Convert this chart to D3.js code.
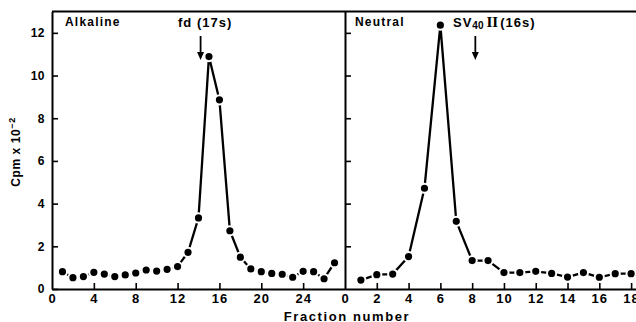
<!DOCTYPE html>
<html>
<head>
<meta charset="utf-8">
<script src="https://cdn.jsdelivr.net/npm/d3@7"></script>
<style>
  html, body { margin: 0; padding: 0; background: #fff; }
  svg text { font-family: "Liberation Sans", Arial, sans-serif; font-weight: bold; fill: #000; }
</style>
</head>
<body>
<svg id="chart" width="636" height="322"></svg>
<script>
// ---- Data ----
const alkalineFractions = [1,2,3,4,5,6,7,8,9,10,11,12,13,14,15,16,17,18,19,20,21,22,23,24,25,26,27];
const alkalineCpm = [0.81,0.53,0.58,0.78,0.70,0.58,0.66,0.75,0.89,0.84,0.92,1.05,1.72,3.33,10.89,8.86,2.73,1.49,0.94,0.81,0.73,0.69,0.55,0.83,0.81,0.48,1.23];
const neutralFractions = [1,2,3,4,5,6,7,8,9,10,11,12,13,14,15,16,17,18];
const neutralCpm = [0.42,0.67,0.70,1.52,4.72,12.36,3.17,1.33,1.33,0.77,0.77,0.83,0.73,0.56,0.77,0.55,0.72,0.72];
const yTicks = [0,2,4,6,8,10,12];
const alkalineXTicks = [0,4,8,12,16,20,24];
const neutralXTicks = [0,2,4,6,8,10,12,14,16,18];
const alkalineMarker = 14.2;   // fd (17s) arrow position (fraction)
const neutralMarker = 8.2;     // SV40 II (16s) arrow position (fraction)

// ---- Layout ----
const svg = d3.select("#chart");
const y = d3.scaleLinear().domain([0, 13]).range([289, 11.5]);
const xL = d3.scaleLinear().domain([0, 28]).range([52, 345]);
const xR = d3.scaleLinear().domain([0, 19]).range([345, 647]);

// Axes
function styleAxis(g) {
  g.selectAll(".domain").attr("stroke", "#000").attr("stroke-width", 2);
  g.selectAll(".tick line").attr("stroke", "#000").attr("stroke-width", 1.6);
}
// left y axis with labels
svg.append("g").attr("transform", `translate(${xL(0)},0)`)
  .call(d3.axisLeft(y).tickValues(yTicks).tickSizeInner(-6).tickSizeOuter(0).tickPadding(7).tickFormat(d3.format("d")))
  .call(styleAxis)
  .call(g => g.selectAll("text").style("font-size", "12px").style("letter-spacing", "0.5px"));
// middle y axis (right panel), ticks inward, no labels
svg.append("g").attr("transform", `translate(${xR(0)},0)`)
  .call(d3.axisLeft(y).tickValues(yTicks.slice(1)).tickSizeInner(-6).tickSizeOuter(0).tickFormat(""))
  .call(styleAxis);
// bottom axes
svg.append("g").attr("transform", `translate(0,${y(0)})`)
  .call(d3.axisBottom(xL).tickValues(alkalineXTicks).tickSizeInner(-6).tickSizeOuter(0).tickPadding(5).tickFormat(d3.format("d")))
  .call(styleAxis)
  .call(g => g.selectAll("text").style("font-size", "13px").style("letter-spacing", "1px"))
  .call(g => g.selectAll(".tick").filter(d => d === 0).select("line").remove());
svg.append("g").attr("transform", `translate(0,${y(0)})`)
  .call(d3.axisBottom(xR).tickValues(neutralXTicks).tickSizeInner(-6).tickSizeOuter(0).tickPadding(5).tickFormat(d3.format("d")))
  .call(styleAxis)
  .call(g => g.selectAll("text").style("font-size", "13px").style("letter-spacing", "1px"))
  .call(g => g.selectAll(".tick").filter(d => d === 0).select("line").remove());
// top frame
svg.append("line")
  .attr("x1", xL(0)).attr("x2", 636).attr("y1", y(13)).attr("y2", y(13))
  .attr("stroke", "#000").attr("stroke-width", 2);

// Series
function drawSeries(xs, ys, xScale) {
  const pts = xs.map((f, i) => [f, ys[i]]);
  svg.append("path").datum(pts)
    .attr("fill", "none").attr("stroke", "#000").attr("stroke-width", 2.3)
    .attr("stroke-linejoin", "miter")
    .attr("d", d3.line().x(d => xScale(d[0])).y(d => y(d[1])));
  svg.append("g").selectAll("circle").data(pts).join("circle")
    .attr("cx", d => xScale(d[0])).attr("cy", d => y(d[1]))
    .attr("r", 4.6).attr("fill", "#000").attr("stroke", "#fff").attr("stroke-width", 2);
}
drawSeries(alkalineFractions, alkalineCpm, xL);
drawSeries(neutralFractions, neutralCpm, xR);

// Arrows
function arrow(x) {
  const top = 36, bottom = 60;
  svg.append("line").attr("x1", x).attr("x2", x).attr("y1", top).attr("y2", bottom - 6)
    .attr("stroke", "#000").attr("stroke-width", 1.8);
  svg.append("path").attr("d", `M${x - 3.5},${bottom - 8}L${x + 3.5},${bottom - 8}L${x},${bottom}Z`).attr("fill", "#000");
}
arrow(xL(alkalineMarker));
arrow(xR(neutralMarker));

// Panel labels
svg.append("text").attr("x", 65).attr("y", 25.5).style("font-size", "12px").style("letter-spacing", "1.2px").text("Alkaline");
svg.append("text").attr("x", 355).attr("y", 25.5).style("font-size", "12px").style("letter-spacing", "1.2px").text("Neutral");
svg.append("text").attr("x", 178).attr("y", 27).style("font-size", "13px").style("letter-spacing", "1px").text("fd (17s)");
const sv = svg.append("text").attr("x", 453).attr("y", 27).style("font-size", "13px").style("letter-spacing", "1px");
sv.append("tspan").text("SV");
sv.append("tspan").attr("dy", 2).style("font-size", "10px").style("letter-spacing", "0px").text("40");
sv.append("tspan").attr("dy", -2).attr("dx", 3).style("font-family", "'Liberation Serif', serif").style("font-size", "15px").style("letter-spacing", "0px").text("II");
sv.append("tspan").attr("dx", 2).text("(16s)");

// Axis titles
svg.append("text").attr("x", 347).attr("y", 320.5).attr("text-anchor", "middle")
  .style("font-size", "13px").style("letter-spacing", "1.6px").text("Fraction number");
const yl = svg.append("text").attr("transform", "translate(20,152) rotate(-90)").attr("text-anchor", "middle")
  .style("font-size", "12px").style("letter-spacing", "0.6px");
yl.append("tspan").text("Cpm x 10");
yl.append("tspan").attr("dy", -5).style("font-size", "9px").text("−2");
</script>
</body>
</html>
